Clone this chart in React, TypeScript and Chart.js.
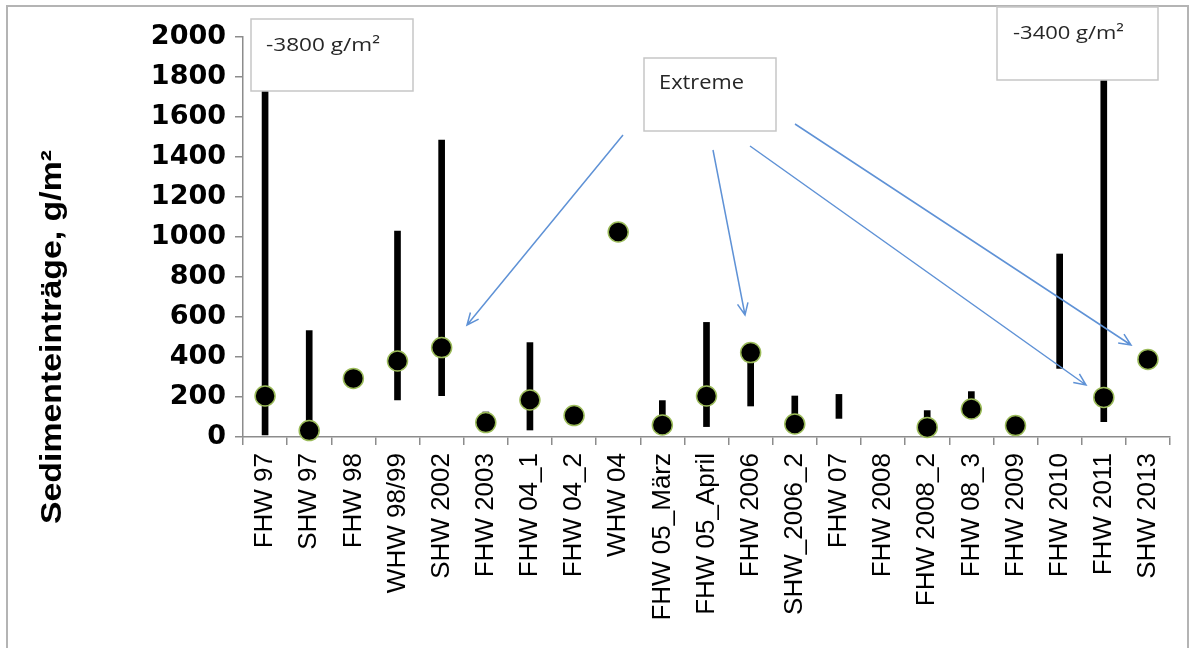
import React, { useEffect, useRef } from "react";
import { Chart, registerables } from "chart.js";

Chart.register(...registerables);

const categories = [
  "FHW 97", "SHW 97", "FHW 98", "WHW 98/99", "SHW 2002", "FHW 2003", "FHW 04_1",
  "FHW 04_2", "WHW 04", "FHW 05_März", "FHW 05_April", "FHW 2006", "SHW_2006_2",
  "FHW 07", "FHW 2008", "FHW 2008_2", "FHW 08_3", "FHW 2009", "FHW 2010", "FHW 2011", "SHW 2013",
];

// measured / typical value (dot)
const values: (number | null)[] = [
  205, 32, 293, 380, 447, 72, 185, 107, 1025, 60, 205, 422, 65, null, null, 48, 140, 57, null, 198, 388,
];

// range minimum and maximum (vertical bar)
const rangeMin: (number | null)[] = [
  10, 20, null, 185, 207, 60, 35, null, null, 40, 52, 155, 60, 93, null, 40, 130, null, 343, 77, null,
];
const rangeMax: (number | null)[] = [
  3800, 532, null, 1030, 1485, 125, 472, null, null, 182, 573, 422, 205, 213, null, 132, 227, null, 915, 3400, null,
];

const yTicks = { min: 0, max: 2000, step: 200 };
const yTitle = "Sedimenteinträge, g/m²";
const noteLeft = "-3800 g/m²";
const noteRight = "-3400 g/m²";
const noteExtreme = "Extreme";

function fitText(
  ctx: CanvasRenderingContext2D,
  text: string,
  x: number,
  y: number,
  font: string,
  targetW: number,
  color: string
) {
  ctx.save();
  ctx.font = font;
  ctx.fillStyle = color;
  ctx.textAlign = "left";
  ctx.textBaseline = "alphabetic";
  const w = ctx.measureText(text).width;
  ctx.translate(x, y);
  ctx.scale(targetW / w, 1);
  ctx.fillText(text, 0, 0);
  ctx.restore();
}

function arrow(ctx: CanvasRenderingContext2D, x1: number, y1: number, x2: number, y2: number) {
  ctx.save();
  ctx.strokeStyle = "#5f92d6";
  ctx.lineWidth = 1.5;
  ctx.beginPath();
  ctx.moveTo(x1, y1);
  ctx.lineTo(x2, y2);
  const a = Math.atan2(y2 - y1, x2 - x1);
  const L = 13;
  const s = 0.42;
  ctx.moveTo(x2 - L * Math.cos(a - s), y2 - L * Math.sin(a - s));
  ctx.lineTo(x2, y2);
  ctx.lineTo(x2 - L * Math.cos(a + s), y2 - L * Math.sin(a + s));
  ctx.stroke();
  ctx.restore();
}

function box(ctx: CanvasRenderingContext2D, x: number, y: number, w: number, h: number) {
  ctx.save();
  ctx.fillStyle = "#ffffff";
  ctx.fillRect(x, y, w, h);
  ctx.strokeStyle = "#c6c6c6";
  ctx.lineWidth = 1.5;
  ctx.strokeRect(x, y, w, h);
  ctx.restore();
}

const decorPlugin = {
  id: "decor",
  beforeDraw(chart: any) {
    const ctx = chart.ctx as CanvasRenderingContext2D;
    ctx.save();
    ctx.fillStyle = "#ffffff";
    ctx.fillRect(0, 0, chart.width, chart.height);
    ctx.strokeStyle = "#b4b4b4";
    ctx.lineWidth = 2;
    ctx.strokeRect(7, 6, 1181, 700);
    ctx.restore();
    // y axis title
    ctx.save();
    ctx.font = "bold 29px 'Liberation Sans', Arial, sans-serif";
    const w = ctx.measureText(yTitle).width;
    ctx.translate(53, 337);
    ctx.rotate(-Math.PI / 2);
    ctx.scale(374 / w, 1);
    ctx.fillStyle = "#000";
    ctx.textAlign = "center";
    ctx.textBaseline = "middle";
    ctx.fillText(yTitle, 0, 0);
    ctx.restore();
  },
  afterDraw(chart: any) {
    const ctx = chart.ctx as CanvasRenderingContext2D;
    arrow(ctx, 623, 135, 467, 325);
    arrow(ctx, 713, 150, 745, 315);
    arrow(ctx, 750, 146, 1086, 385);
    arrow(ctx, 795, 124, 1131, 345);
    box(ctx, 251, 19, 162, 72);
    box(ctx, 997, 7, 161, 73);
    box(ctx, 644, 58, 132, 73);
    const f = "19px 'Open Sans', 'Liberation Sans', sans-serif";
    fitText(ctx, noteLeft, 266, 51, f, 114, "#262626");
    fitText(ctx, noteRight, 1013, 39, f, 111, "#262626");
    fitText(ctx, noteExtreme, 659, 89, "20px 'Open Sans', 'Liberation Sans', sans-serif", 85, "#262626");
  },
};

export default function App() {
  const ref = useRef<HTMLCanvasElement | null>(null);
  useEffect(() => {
    if (!ref.current) return;
    const ranges = rangeMin.map((lo, i) => (lo === null || rangeMax[i] === null ? null : [lo, rangeMax[i]]));
    const chart = new Chart(ref.current, {
      data: {
        labels: categories,
        datasets: [
          {
            type: "line",
            label: "Wert",
            data: values,
            showLine: false,
            pointRadius: 10,
            pointHoverRadius: 10,
            pointBackgroundColor: "#000",
            pointBorderColor: "#9bbb59",
            pointBorderWidth: 1.5,
            clip: false,
            order: 0,
          } as any,
          {
            type: "bar",
            label: "Spanne",
            data: ranges as any,
            backgroundColor: "#000",
            barThickness: 6,
            order: 1,
          } as any,
        ],
      },
      options: {
        animation: false,
        responsive: true,
        maintainAspectRatio: false,
        layout: { padding: { top: 37, right: 24, left: 0, bottom: 0 } },
        plugins: { legend: { display: false }, tooltip: { enabled: false } },
        scales: {
          x: {
            type: "category",
            offset: true,
            grid: { offset: true, drawOnChartArea: false, drawTicks: true, tickLength: 8, color: "#8c8c8c", lineWidth: 1.5 },
            border: { display: true, color: "#8c8c8c", width: 1.5 },
            ticks: {
              minRotation: 90,
              maxRotation: 90,
              autoSkip: false,
              padding: 8,
              color: "#000",
              font: { family: "'Liberation Sans', Arial, sans-serif", size: 26 },
            },
            afterFit(scale: any) {
              scale.height = 211;
            },
          },
          y: {
            min: yTicks.min,
            max: yTicks.max,
            grid: { drawOnChartArea: false, drawTicks: true, tickLength: 8, color: "#8c8c8c", lineWidth: 1.5 },
            border: { display: true, color: "#8c8c8c", width: 1.5 },
            ticks: {
              stepSize: yTicks.step,
              padding: 9,
              color: "#000",
              font: { family: "'DejaVu Sans', sans-serif", size: 27, weight: "bold" },
              callback: (v: any) => String(v),
            },
            afterFit(scale: any) {
              scale.width = 243;
            },
          },
        },
      },
      plugins: [decorPlugin],
    });
    return () => chart.destroy();
  }, []);
  return (
    <div style={{ position: "fixed", left: 0, top: 0, width: 1194, height: 648 }}>
      <canvas ref={ref} />
    </div>
  );
}
